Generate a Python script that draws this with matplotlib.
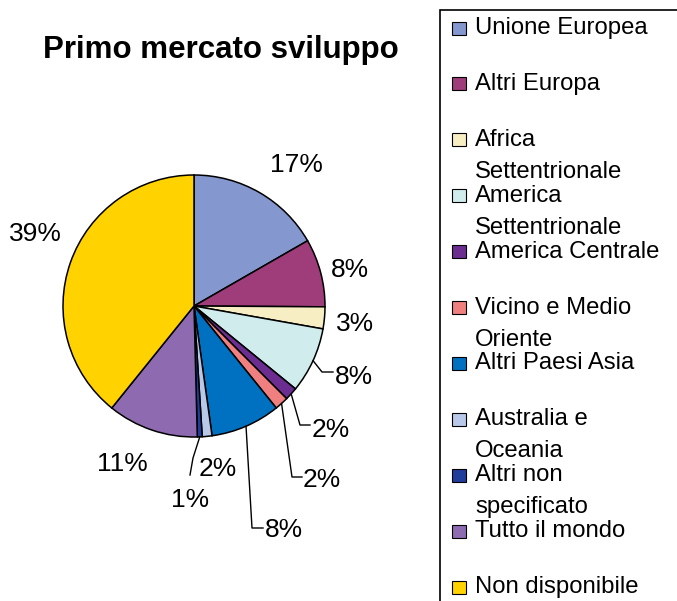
import numpy as np
import matplotlib.pyplot as plt
from matplotlib.patches import Rectangle

W, H = 677, 601

categorie = ['Unione Europea', 'Altri Europa', 'Africa\nSettentrionale',
             'America\nSettentrionale', 'America Centrale',
             'Vicino e Medio\nOriente', 'Altri Paesi Asia',
             'Australia e\nOceania', 'Altri non\nspecificato',
             'Tutto il mondo', 'Non disponibile']
quote = [16.7, 8.4, 2.7, 8.1, 1.6, 1.7, 8.6, 1.2, 0.6, 11.2, 39.2]
etichette = ['17%', '8%', '3%', '8%', '2%', '2%', '8%', '2%', '1%', '11%', '39%']
colori = ['#8497CF', '#9E3D7A', '#F8EEC4', '#D0ECEC', '#6B2D90', '#F08080',
          '#0070C0', '#B8C8E8', '#203D9C', '#8E6BB0', '#FFD200']

plt.rcParams['font.family'] = ['Liberation Sans', 'DejaVu Sans']

fig = plt.figure(figsize=(W / 100, H / 100), dpi=100)
ax = fig.add_axes([0, 0, 1, 1])

# work in pixel coords, y from the top
def py(y):
    return H - y

cx, cy, r = 194, py(306), 131
wedges, _ = ax.pie(quote, colors=colori, startangle=90, counterclock=False,
                   center=(cx, cy), radius=r,
                   wedgeprops=dict(edgecolor='black', linewidth=1.1))
ax.set_xlim(0, W)
ax.set_ylim(0, H)
ax.set_aspect('auto')
ax.axis('off')

# label positions (x, y from top, alignment)
pos_lab = [(296, 165, 'center'), (350, 270, 'center'), (355, 324, 'center'),
           (335, 377, 'left'), (312, 430, 'left'), (303, 480, 'left'),
           (265, 530, 'left'), (218, 469, 'center'), (190, 500, 'center'),
           (122, 464, 'center'), (35, 234, 'center')]
leader = {3: [(322, 372), (333, 372)],
          4: [(300, 425), (310, 425)],
          5: [(292, 477), (302, 477)],
          6: [(252, 528), (263, 528)],
          8: [(193, 458), (190, 475)]}

for i, (w, lab) in enumerate(zip(wedges, etichette)):
    x, y, ha = pos_lab[i]
    ax.text(x, py(y), lab, fontsize=19, ha=ha, va='center')
    if i in leader:
        a = np.deg2rad((w.theta1 + w.theta2) / 2)
        xs = [cx + r * np.cos(a)] + [p[0] for p in leader[i]]
        ys = [cy + r * np.sin(a)] + [py(p[1]) for p in leader[i]]
        ax.plot(xs, ys, color='black', lw=1.0)

ax.text(221, py(50), 'Primo mercato sviluppo', fontsize=22.5, fontweight='bold',
        ha='center', va='center')

# legend box (cut off on the right and bottom like the original)
ax.add_patch(Rectangle((440, -20), 300, H - 10 + 20, fill=False,
                       edgecolor='black', lw=1.2))
for i, (cat, col) in enumerate(zip(categorie, colori)):
    y0 = 28 + i * 55.9
    ax.add_patch(Rectangle((452, py(y0) - 6.5), 14, 13, facecolor=col,
                           edgecolor='black', lw=0.8))
    for k, riga in enumerate(cat.split('\n')):
        ax.text(475, py(y0 + k * 32), riga, fontsize=17.2, ha='left',
                va='center')

fig.savefig('out.png', dpi=100)
